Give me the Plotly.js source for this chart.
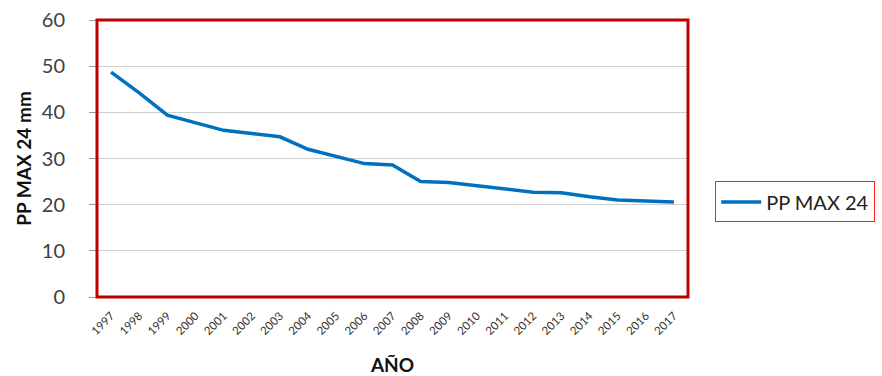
<!DOCTYPE html>
<html>
<head>
<meta charset="utf-8">
<script src="https://cdn.plot.ly/plotly-3.0.1.min.js"></script>
<style>html,body{margin:0;padding:0;background:#fff;}#chart{width:882px;height:376px;}</style>
</head>
<body>
<div id="chart"></div>
<script>
const years = ["1997","1998","1999","2000","2001","2002","2003","2004","2005","2006","2007","2008","2009","2010","2011","2012","2013","2014","2015","2016","2017"];
const ppMax24 = [48.7,44.2,39.4,37.7,36.1,35.4,34.7,32.0,30.4,28.9,28.6,25.0,24.8,24.1,23.3,22.7,22.6,21.7,21.0,20.8,20.6];
const seriesName = "PP MAX 24";
const yTicks = [0,10,20,30,40,50,60];

const font = "Lato, 'Open Sans', sans-serif";

Plotly.newPlot("chart", [{
  x: years, y: ppMax24, type: "scatter", mode: "lines", name: seriesName,
  line: {color: "#0070c0", width: 3.5}
}], {
  width: 882, height: 376,
  margin: {l: 97, r: 194, t: 20, b: 79, autoexpand: false},
  paper_bgcolor: "#fff", plot_bgcolor: "#fff",
  showlegend: true,
  legend: {
    x: 1.046, xanchor: "left", y: 0.343, yanchor: "middle",
    bordercolor: "#ff2020", borderwidth: 1,
    font: {family: font, size: 20, color: "#222"},
    itemwidth: 40
  },
  xaxis: {
    type: "category", range: [-0.5, 20.5], tickangle: -45,
    tickfont: {family: font, size: 11.5, color: "#333"},
    showgrid: false, zeroline: false, showline: false,
    ticks: "", ticklen: 0, ticklabelstandoff: 9,
    title: {text: "AÑO", font: {family: font, size: 19, color: "#111", weight: "bold"}, standoff: 22}
  },
  yaxis: {
    range: [0, 60], tickvals: yTicks, ticktext: yTicks.map(String),
    tickfont: {family: font, size: 20, color: "#404040"},
    showgrid: true, gridcolor: "#cfcfcf", gridwidth: 1,
    zeroline: false, showline: false,
    ticks: "outside", ticklen: 7, tickcolor: "#999", ticklabelstandoff: 20,
    title: {text: "PP MAX 24 mm", font: {family: font, size: 19, color: "#111", weight: "bold"}, standoff: 5}
  },
  shapes: [{
    type: "rect", xref: "paper", yref: "paper", x0: 0, x1: 1, y0: 0, y1: 1,
    line: {color: "#c00000", width: 3}
  }]
}, {displayModeBar: false, staticPlot: true});
</script>
</body>
</html>
